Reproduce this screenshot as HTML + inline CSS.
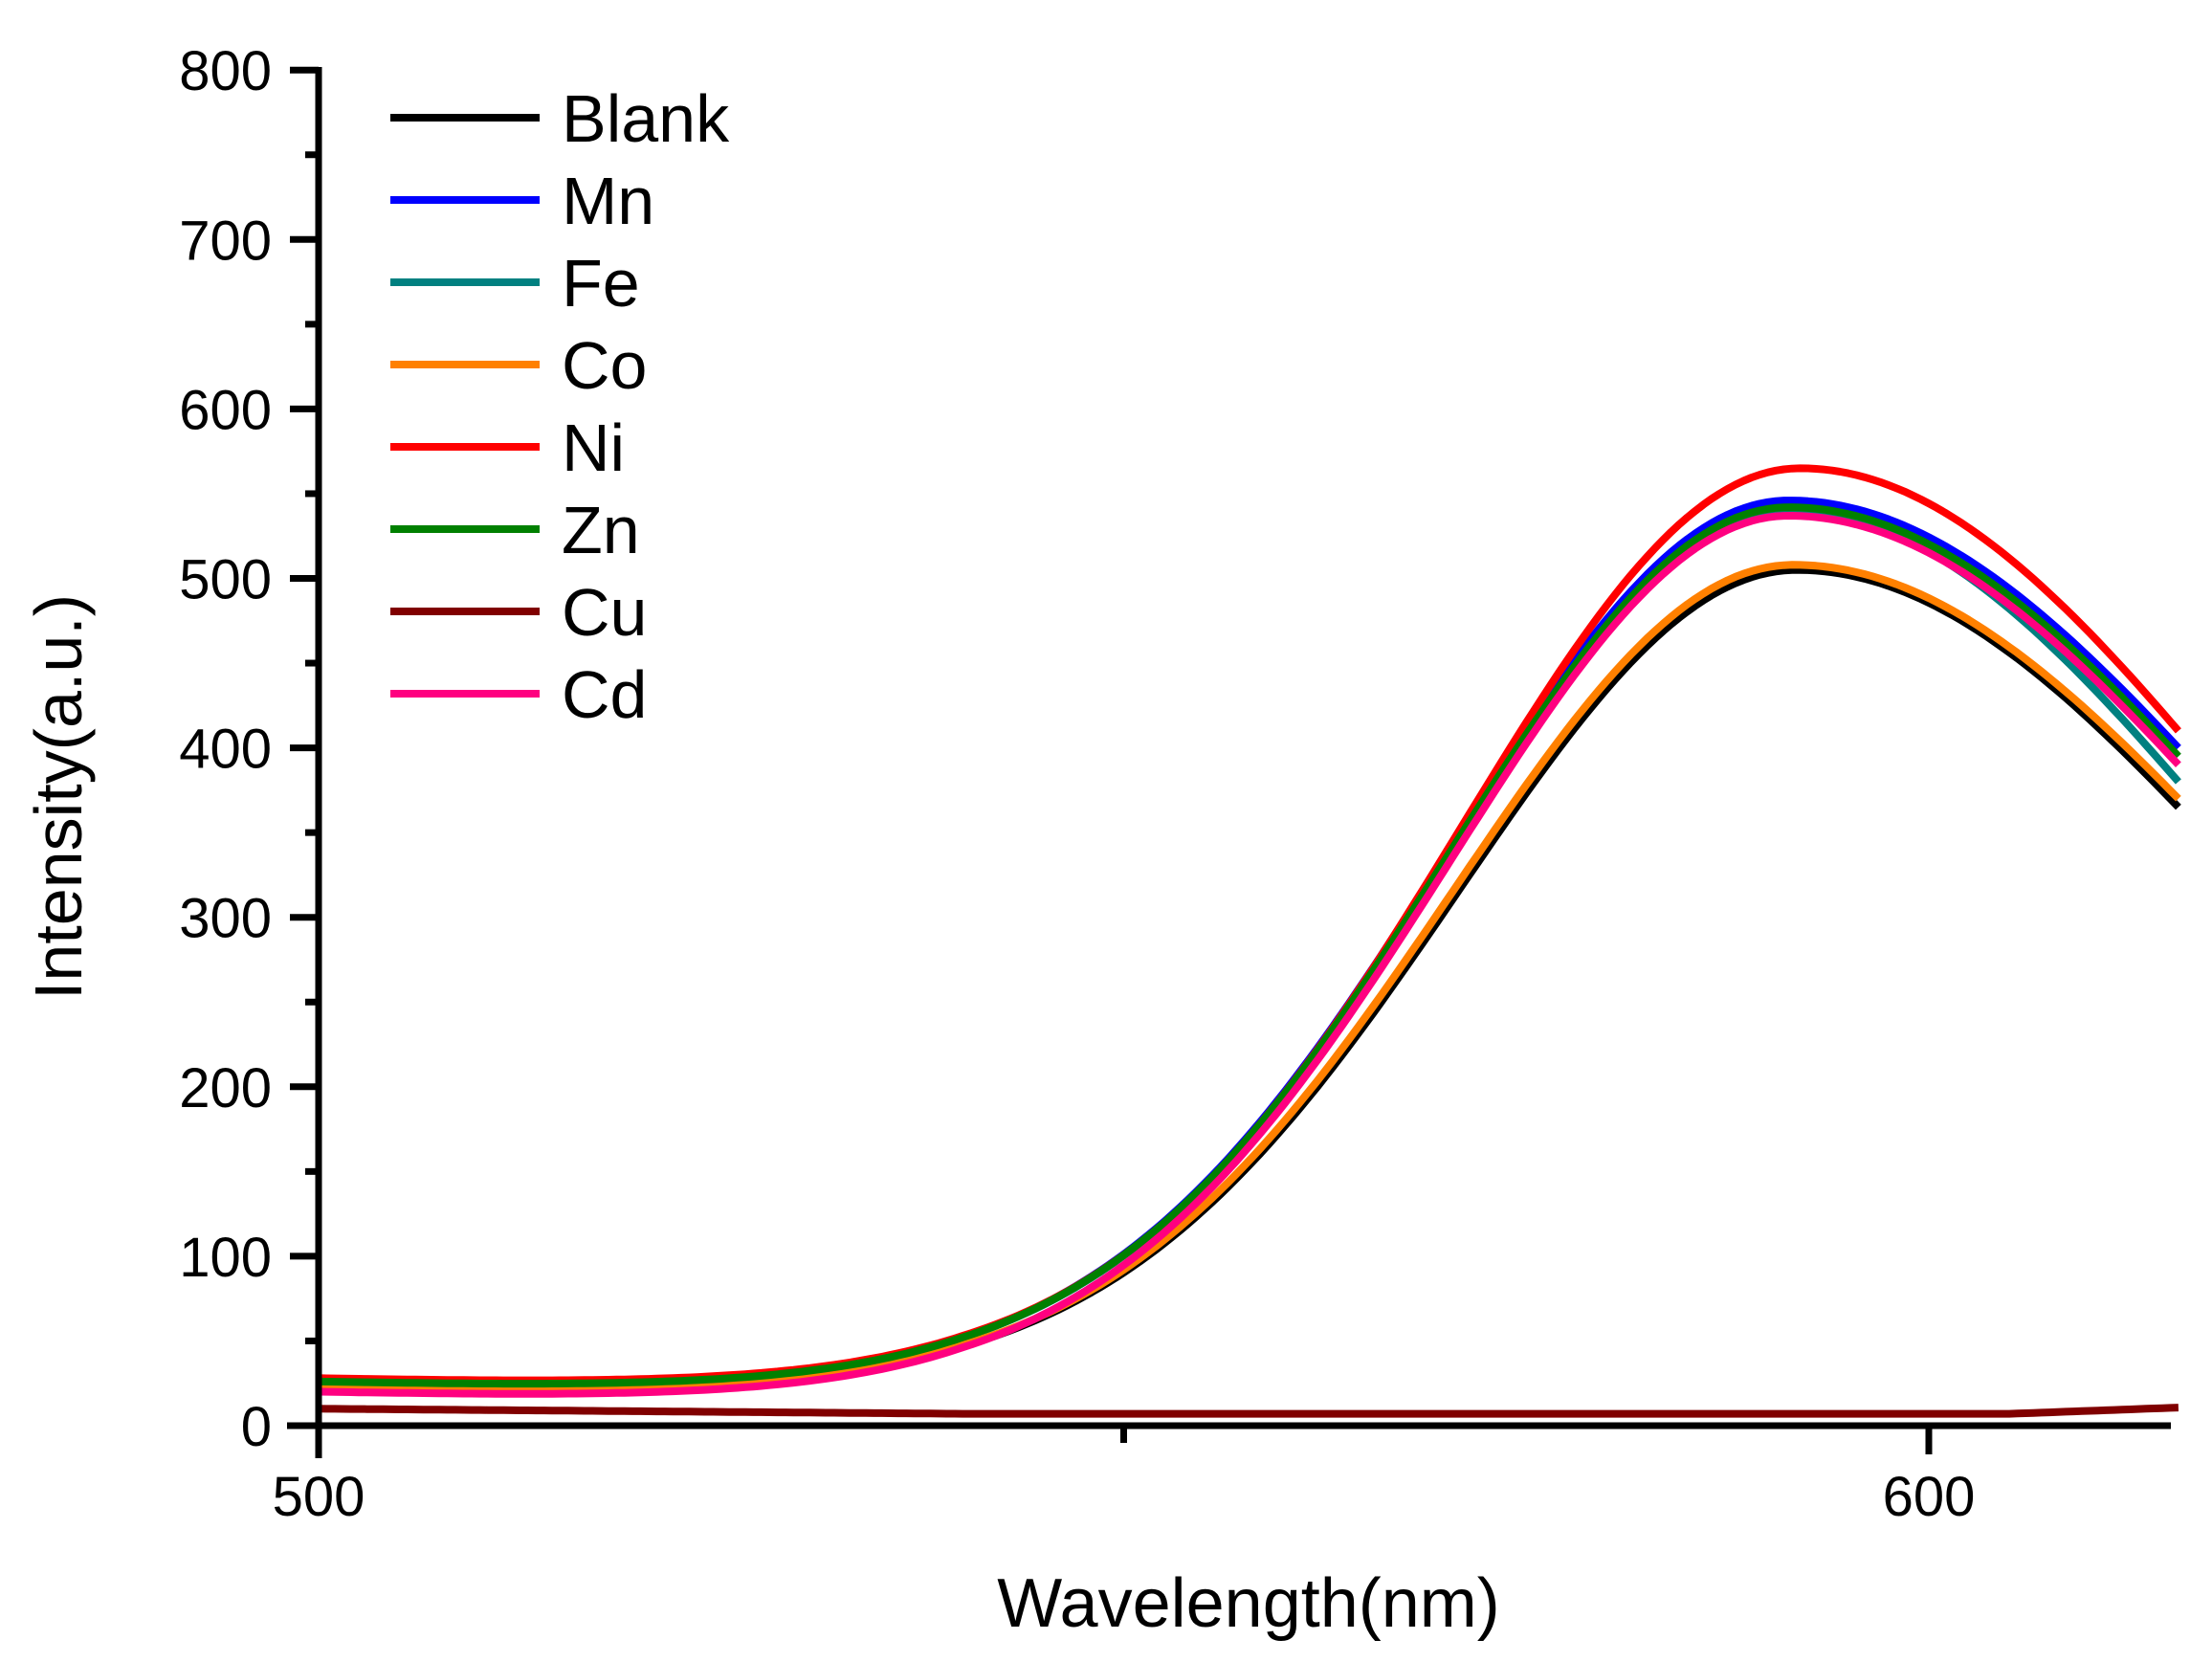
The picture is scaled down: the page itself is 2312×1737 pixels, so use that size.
<!DOCTYPE html>
<html><head><meta charset="utf-8"><style>
html,body{margin:0;padding:0;background:#fff;}
svg{display:block;}
text{font-family:"Liberation Sans",Arial,sans-serif;fill:#000;}
</style></head><body>
<svg id="s" width="2312" height="1737" viewBox="0 0 2312 1737" xmlns="http://www.w3.org/2000/svg">
<g id="curves"></g>
<g stroke="#000" stroke-width="7" fill="none">
<line x1="333" y1="70" x2="333" y2="1524"/>
<line x1="300" y1="1490" x2="2269" y2="1490"/>
</g>
<g id="ticks" stroke="#000" stroke-width="7"></g>
<g font-size="58" text-anchor="end" id="ylab"></g>
<text x="333" y="1584" font-size="58" text-anchor="middle">500</text>
<text x="2016" y="1584" font-size="58" text-anchor="middle">600</text>
<text x="1305" y="1700" font-size="72" text-anchor="middle">Wavelength(nm)</text>
<text transform="translate(85,833) rotate(-90)" font-size="70" text-anchor="middle">Intensity(a.u.)</text>
<g id="legend"></g>
</svg>
<script>
var NS="http://www.w3.org/2000/svg";
function el(p,t,a,txt){var e=document.createElementNS(NS,t);for(var k in a)e.setAttribute(k,a[k]);if(txt)e.textContent=txt;p.appendChild(e);return e;}
var X=function(l){return 333+(l-500)*16.83;};
var Y=function(v){return 1490-v*1.771;};
var tk=document.getElementById('ticks'),yl=document.getElementById('ylab');
for(var v=0;v<=800;v+=50){var maj=v%100==0;el(tk,'line',{x1:maj?303:319,y1:Y(v),x2:333,y2:Y(v)});
 if(maj)el(yl,'text',{x:284,y:Y(v)+21},String(v));}
el(tk,'line',{x1:333,y1:1490,x2:333,y2:1520});
el(tk,'line',{x1:X(550),y1:1490,x2:X(550),y2:1508});
el(tk,'line',{x1:X(600),y1:1490,x2:X(600),y2:1520});
var S=[
 ["Blank","#000000",24,505,591.8,365],
 ["Mn","#0000ff",26,546,591.3,400],
 ["Fe","#008080",26,540,591.3,380],
 ["Co","#ff8000",24,508,591.6,370],
 ["Ni","#ff0000",28,565,592.0,410],
 ["Zn","#008000",26,542,591.3,395],
 ["Cu","#800000",0,0,0,0],
 ["Cd","#ff0080",20,537,591.3,390]
];
var cg=document.getElementById('curves'),lg=document.getElementById('legend');
S.forEach(function(s,i){
 var d="";
 for(var l=500;l<=615.5;l+=0.5){
  var v;
  if(s[0]=="Cu"){v=10-3*Math.min(1,(l-500)/40)+ (l>605?(l-605)*0.35:0);}
  else{
   var b=s[2],A=s[3]-b,c=s[4],sL=21;
   var sR=Math.sqrt((615.5-c)*(615.5-c)/(2*Math.log(A/(s[5]-b))));
   var sg=l<c?sL:sR;
   v=b+A*Math.exp(-(l-c)*(l-c)/(2*sg*sg));
   if(l<540)v+= -2*Math.sin((l-500)/40*Math.PI);
  }
  d+=(d?"L":"M")+X(l).toFixed(1)+","+Y(v).toFixed(1);
 }
 el(cg,'path',{d:d,stroke:s[1],'stroke-width':8,fill:'none','stroke-linejoin':'round'});
 var y=123+i*86;
 el(lg,'line',{x1:408,y1:y,x2:564,y2:y,stroke:s[1],'stroke-width':8});
 el(lg,'text',{x:587,y:y+25,'font-size':70},s[0]);
});
</script>
</body></html>
